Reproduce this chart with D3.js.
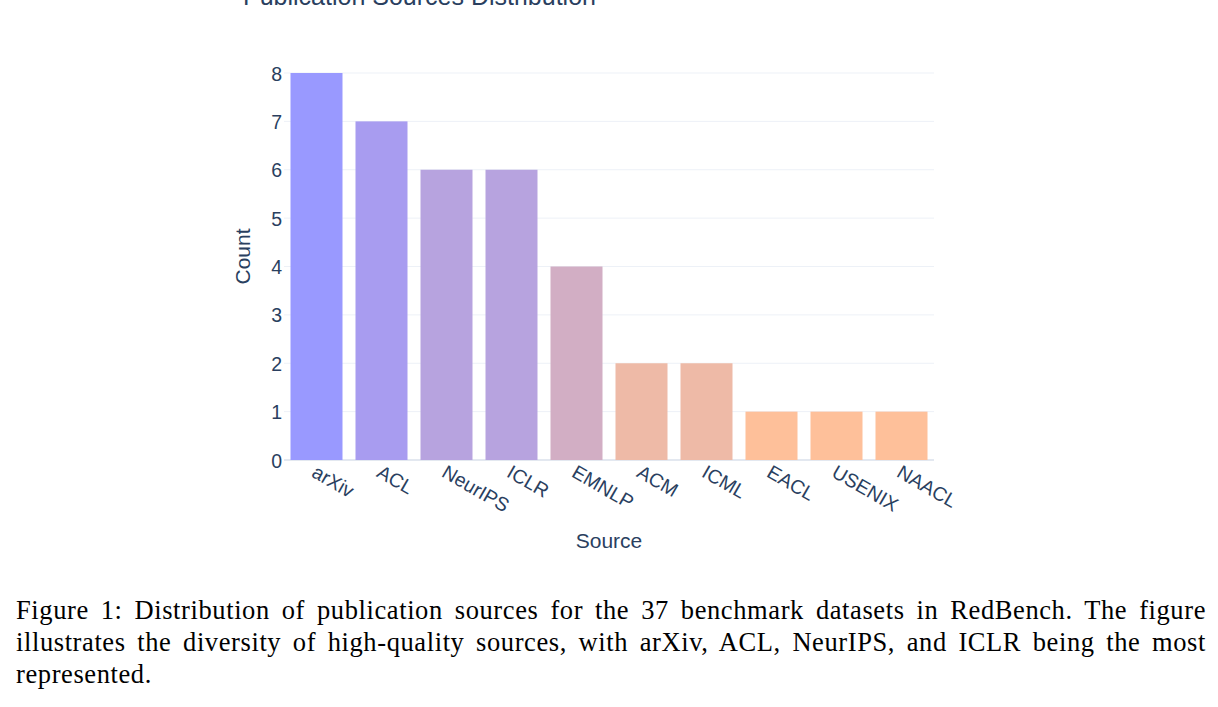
<!DOCTYPE html>
<html>
<head>
<meta charset="utf-8">
<script src="https://cdn.jsdelivr.net/npm/d3@7"></script>
<style>
    body { margin: 0; background: #fff; }
    svg { display: block; }
</style>
</head>
<body>
<div id="chart"></div>
<script>
const sources = ["arXiv", "ACL", "NeurIPS", "ICLR", "EMNLP", "ACM", "ICML", "EACL", "USENIX", "NAACL"];
const counts = [8, 7, 6, 6, 4, 2, 2, 1, 1, 1];
const yTicks = [0, 1, 2, 3, 4, 5, 6, 7, 8];
const colorStops = [1, 2, 4, 6, 7, 8];
const colorValues = ["#fec09a", "#eebaa7", "#d2aec4", "#b7a3df", "#a89cf0", "#9999ff"];
const title = "Publication Sources Distribution";
const caption = [
    "Figure 1: Distribution of publication sources for the 37 benchmark datasets in RedBench. The figure",
    "illustrates the diversity of high-quality sources, with arXiv, ACL, NeurIPS, and ICLR being the most",
    "represented.",
];

const width = 1218;
const height = 707;
const plot = { left: 284, right: 934, top: 73, bottom: 460 };
const textColor = "#2a3f5f";
const sans = "'Liberation Sans', Arial, sans-serif";

const svg = d3
    .select("#chart")
    .append("svg")
    .attr("width", width)
    .attr("height", height);

const xScale = d3
    .scaleBand()
    .domain(sources)
    .range([plot.left, plot.right])
    .paddingInner(0.2)
    .paddingOuter(0.1);

const yScale = d3
    .scaleLinear()
    .domain([0, 8])
    .range([plot.bottom, plot.top]);

const color = d3.scaleLinear().domain(colorStops).range(colorValues);

// gridlines
svg.append("g")
    .selectAll("line")
    .data(yTicks)
    .join("line")
    .attr("x1", plot.left)
    .attr("x2", plot.right)
    .attr("y1", (d) => yScale(d))
    .attr("y2", (d) => yScale(d))
    .attr("stroke", (d) => (d === 0 ? "#e3e8f0" : "#edf1f7"))
    .attr("stroke-width", (d) => (d === 0 ? 2 : 1));

// bars
svg.append("g")
    .selectAll("rect")
    .data(sources)
    .join("rect")
    .attr("x", (d) => xScale(d))
    .attr("width", xScale.bandwidth())
    .attr("y", (d, i) => yScale(counts[i]))
    .attr("height", (d, i) => yScale(0) - yScale(counts[i]))
    .attr("fill", (d, i) => color(counts[i]));

// y axis
const yAxis = svg.append("g")
    .attr("transform", `translate(${plot.left}, 0)`)
    .call(d3.axisLeft(yScale).tickValues(yTicks).tickSize(0).tickPadding(2))
    .attr("font-size", 19.5)
    .attr("font-family", sans);
yAxis.select(".domain").remove();
yAxis.selectAll("text")
    .attr("fill", textColor)
    .attr("font-size", 19.5)
    .attr("dy", "0.36em");

// x axis
const xAxis = svg.append("g")
    .attr("transform", `translate(0, ${plot.bottom})`)
    .call(d3.axisBottom(xScale).tickSize(0).tickPadding(0))
    .attr("font-size", 19.5)
    .attr("font-family", sans);
xAxis.select(".domain").remove();
xAxis.selectAll("text")
    .attr("fill", textColor)
    .attr("font-size", 19.5)
    .attr("text-anchor", "start")
    .attr("dy", null)
    .attr("y", 0)
    .attr("transform", "translate(-6, 16) rotate(30)");

// axis titles
svg.append("text")
    .attr("transform", `translate(250, ${(plot.top + plot.bottom) / 2 - 10}) rotate(-90)`)
    .attr("text-anchor", "middle")
    .attr("fill", textColor)
    .attr("font-family", sans)
    .attr("font-size", 21)
    .text("Count");

svg.append("text")
    .attr("x", 609)
    .attr("y", 548)
    .attr("text-anchor", "middle")
    .attr("fill", textColor)
    .attr("font-family", sans)
    .attr("font-size", 21)
    .text("Source");

// chart title, cut off at the top as in the figure
svg.append("text")
    .attr("x", 243)
    .attr("y", 5)
    .attr("fill", textColor)
    .attr("font-family", sans)
    .attr("font-size", 25)
    .text(title);

// caption, first lines justified to the text width
const captionWidth = 1190;
svg.append("g")
    .selectAll("text")
    .data(caption)
    .join("text")
    .attr("x", 16)
    .attr("y", (d, i) => 619 + i * 32)
    .attr("fill", "#000")
    .attr("font-family", "'Liberation Serif', 'Times New Roman', serif")
    .attr("font-size", 26.5)
    .attr("letter-spacing", 0.6)
    .text((d) => d)
    .each(function (d, i) {
        if (i === caption.length - 1) return;
        const spaces = d.split(" ").length - 1;
        const extra = (captionWidth - this.getComputedTextLength()) / spaces;
        d3.select(this).attr("word-spacing", Math.max(0, extra));
    });
</script>
</body>
</html>
